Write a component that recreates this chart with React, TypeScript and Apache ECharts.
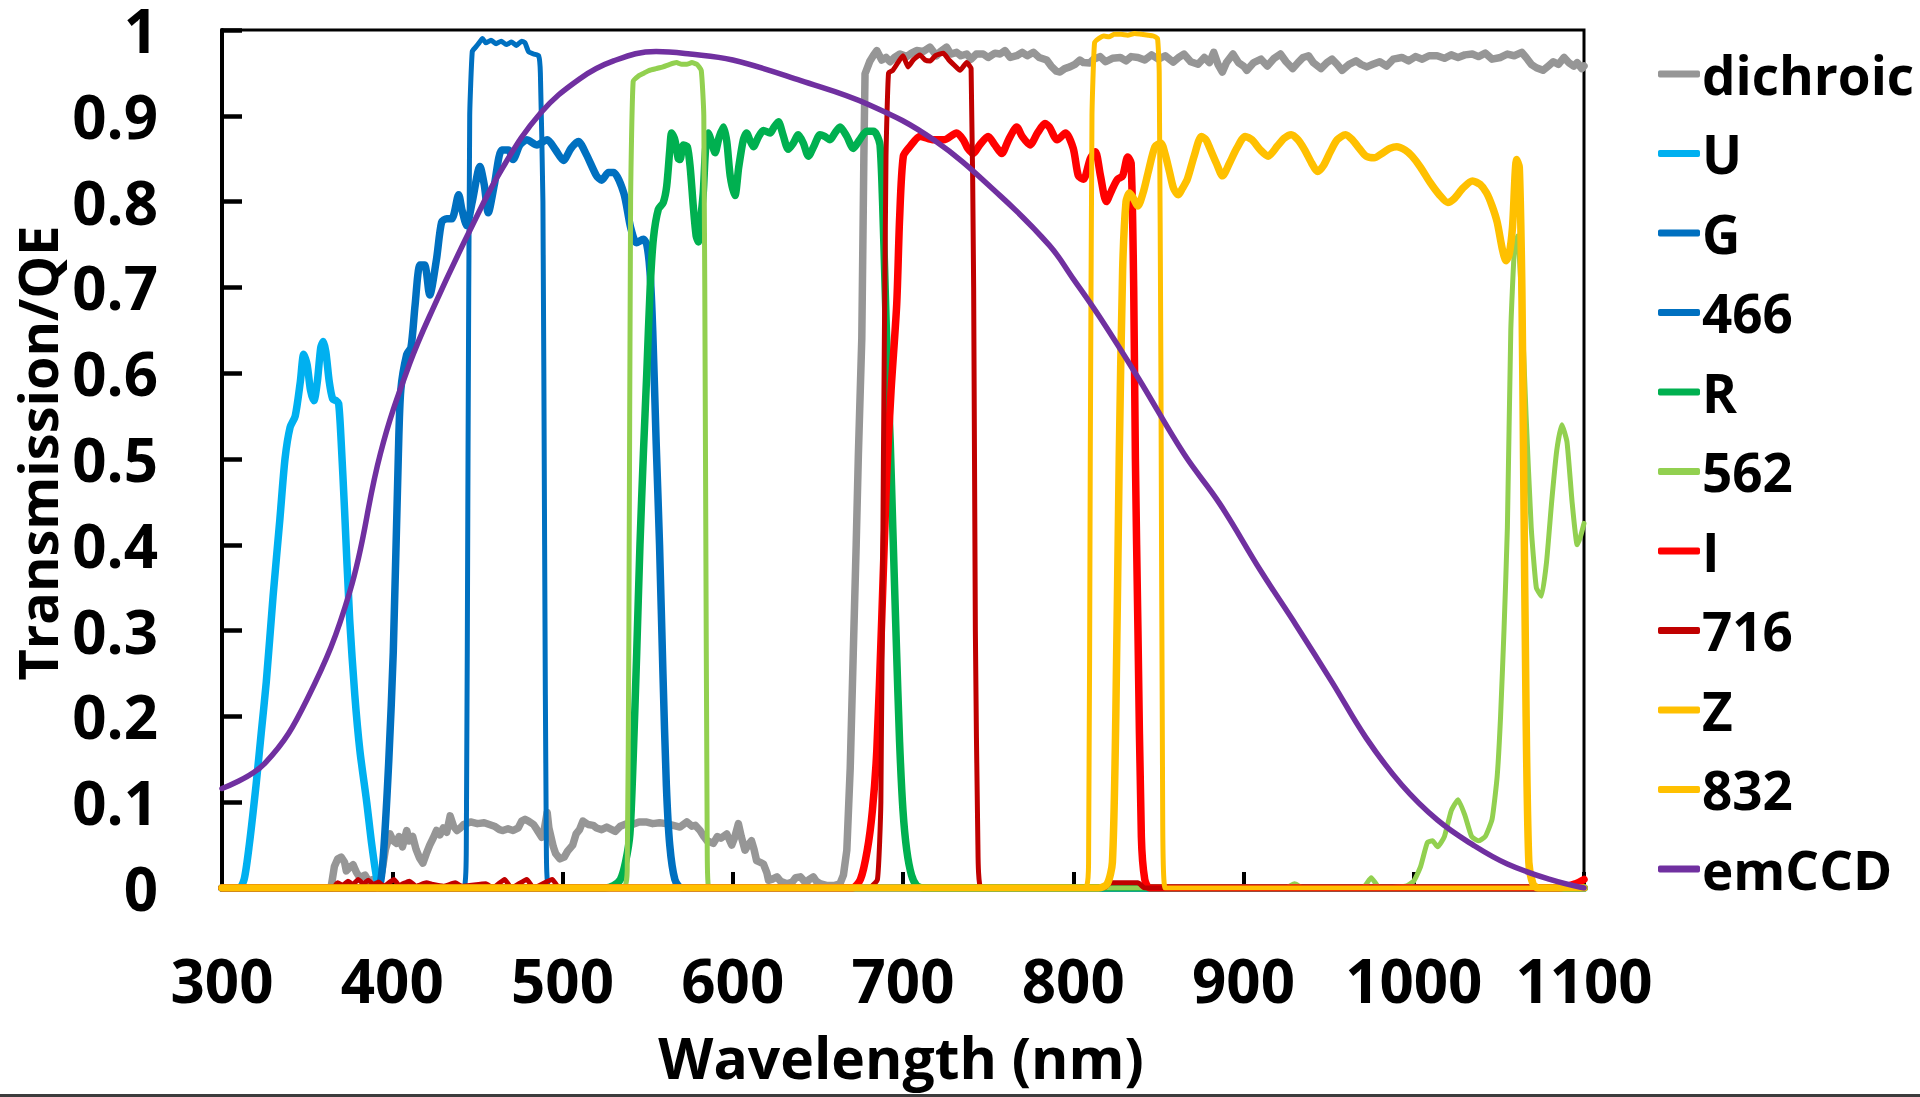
import React, { useEffect, useRef } from 'react';
import * as echarts from 'echarts';

const xTickLabels = ['300', '400', '500', '600', '700', '800', '900', '1000', '1100'];
const yTickLabels = ['0', '0.1', '0.2', '0.3', '0.4', '0.5', '0.6', '0.7', '0.8', '0.9', '1'];
const seriesNames = ['dichroic', 'U', 'G', '466', 'R', '562', 'I', '716', 'Z', '832', 'emCCD'];

const dichroic = [[300,0],[362,0],[364,0],[366,0.025],[368,0.034],[370,0.036],[372,0.03],[373,0.02],[375,0.024],[377,0.027],[379,0.018],[381,0.012],[384,0.015],[386,0.008],[389,0.01],[392,0.005],[394,0.02],[396,0.045],[398.7,0.063],[400.5,0.055],[402.6,0.052],[404,0.06],[406,0.048],[408.5,0.067],[410,0.055],[412,0.06],[414,0.045],[416,0.035],[418,0.029],[420,0.04],[422,0.05],[424,0.058],[426,0.067],[428,0.062],[430,0.07],[432,0.065],[434,0.084],[436,0.072],[438,0.067],[440,0.07],[442,0.074],[446,0.077],[450,0.075],[454,0.076],[457,0.074],[460,0.072],[463,0.068],[465,0.067],[468,0.069],[471,0.067],[474,0.07],[476,0.078],[478,0.08],[480,0.078],[483,0.074],[485,0.068],[487.8,0.059],[489,0.065],[491,0.088],[492,0.07],[494.6,0.048],[496,0.04],[498.5,0.034],[501,0.036],[503,0.043],[506,0.05],[508,0.063],[510,0.068],[512,0.078],[515,0.074],[518,0.073],[520,0.07],[523,0.068],[526,0.071],[528,0.069],[531,0.066],[534,0.072],[537.7,0.075],[541,0.074],[545,0.077],[549,0.077],[553,0.075],[557,0.076],[561,0.075],[565,0.073],[569,0.071],[573,0.077],[576,0.072],[578,0.073],[580.8,0.067],[583,0.06],[585,0.055],[588.6,0.052],[591,0.06],[593,0.058],[596.5,0.063],[599.4,0.05],[601,0.058],[603.3,0.075],[605,0.06],[607.2,0.044],[609,0.05],[611,0.055],[612.5,0.045],[614,0.032],[616,0.03],[618,0.028],[620,0.018],[621,0.009],[623,0.01],[626,0.013],[628,0.008],[631.8,0.005],[635,0.007],[637,0.012],[639.7,0.013],[642,0.008],[643.6,0.007],[645,0.01],[647.3,0.013],[649,0.008],[651.3,0.005],[655,0.003],[660,0.003],[663,0.005],[665,0.015],[667,0.044],[669,0.14],[670.8,0.275],[672.5,0.4],[673.8,0.506],[675.8,0.641],[677,0.85],[677.7,0.949],[680.6,0.964],[682.5,0.97],[684.6,0.976],[687.5,0.965],[690,0.968],[692.4,0.963],[695,0.968],[698.2,0.972],[702.2,0.969],[705,0.973],[708,0.976],[712,0.975],[715.8,0.98],[719.7,0.97],[722,0.975],[725.6,0.98],[728,0.972],[731.5,0.974],[734,0.97],[737.4,0.972],[740,0.966],[743,0.972],[747.1,0.972],[750,0.968],[754,0.973],[757,0.972],[759.9,0.976],[763,0.968],[766.8,0.97],[770,0.974],[773,0.97],[776.6,0.974],[780,0.968],[784.4,0.965],[787,0.958],[790,0.952],[792.2,0.951],[795,0.955],[798,0.957],[801,0.96],[803.9,0.965],[806,0.962],[809.7,0.9615],[812,0.966],[815.7,0.969],[819,0.963],[823,0.967],[827.7,0.968],[831,0.964],[834,0.969],[838,0.968],[842,0.965],[846,0.971],[850,0.966],[854,0.97],[858.7,0.9625],[862,0.968],[865,0.972],[869,0.963],[873.3,0.96],[877,0.968],[880,0.962],[882.5,0.974],[885,0.96],[887.6,0.951],[890,0.962],[893.8,0.972],[897,0.962],[900,0.958],[902,0.953],[906,0.962],[910.3,0.966],[914,0.958],[918,0.967],[921.7,0.972],[925,0.963],[928.9,0.955],[932,0.962],[935,0.968],[938.2,0.97],[941,0.962],[945.5,0.955],[949,0.962],[952,0.966],[955,0.96],[957.9,0.953],[962,0.96],[966.1,0.964],[969,0.96],[972.4,0.957],[976,0.96],[980,0.963],[984,0.958],[988,0.966],[993,0.968],[997,0.964],[1001,0.969],[1005,0.966],[1009,0.97],[1013.7,0.97],[1018,0.967],[1022,0.971],[1026,0.968],[1030,0.971],[1034.4,0.972],[1038,0.969],[1042,0.973],[1046,0.966],[1051,0.968],[1055,0.972],[1059,0.97],[1063.4,0.974],[1066,0.968],[1069,0.96],[1072,0.956],[1075.9,0.953],[1079,0.958],[1082,0.963],[1085,0.96],[1088.3,0.968],[1091,0.962],[1094,0.958],[1096,0.962],[1098.7,0.955],[1100,0.958]];

const uBand = [[300,0],[310,0],[313,0.01],[316,0.05],[320,0.12],[323,0.18],[326,0.24],[330,0.34],[334,0.43],[337,0.5],[340,0.537],[343,0.55],[346,0.59],[348,0.622],[350,0.61],[352,0.58],[354,0.568],[356,0.59],[358,0.63],[359.5,0.637],[361,0.625],[363,0.59],[365,0.57],[367,0.568],[368.5,0.565],[370,0.52],[372,0.44],[375,0.313],[378,0.225],[381,0.16],[385,0.1],[388,0.05],[391,0.01],[393,0],[1100,0]];

const gBand = [[300,0],[390,0],[393,0.006],[395,0.044],[398,0.15],[400.6,0.275],[403.6,0.506],[405,0.58],[408.5,0.622],[411,0.63],[413.4,0.679],[416.3,0.726],[419,0.726],[422,0.691],[426,0.733],[429,0.776],[432,0.78],[435,0.78],[439,0.808],[441,0.79],[443.7,0.772],[447,0.8],[451.5,0.841],[454,0.82],[456.4,0.787],[460,0.82],[464.3,0.86],[468.3,0.86],[471,0.849],[475,0.866],[479,0.872],[485,0.866],[491,0.872],[496,0.86],[500.5,0.848],[505,0.862],[509.3,0.87],[514,0.855],[520,0.83],[523,0.825],[527,0.834],[530,0.834],[536,0.81],[540,0.77],[543.5,0.752],[547.5,0.756],[549.5,0.75],[551.4,0.718],[553,0.65],[555,0.52],[557,0.4],[559,0.25],[561,0.12],[563,0.05],[566,0.01],[570,0],[1100,0]];

const f466 = [[300,0],[442,0],[443.5,0.05],[444.5,0.5],[445.5,0.9],[447,0.975],[449,0.98],[451,0.985],[453,0.99],[455,0.985],[458,0.988],[461,0.984],[464,0.987],[467,0.983],[470,0.986],[473,0.982],[476,0.987],[478,0.985],[480,0.975],[483,0.972],[486,0.97],[487,0.95],[488.5,0.8],[489.5,0.4],[490.5,0.05],[492,0],[1100,0]];

const rBand = [[300,0],[525,0],[530,0.003],[534,0.01],[537,0.03],[539.6,0.063],[541.5,0.15],[543.6,0.275],[545.5,0.4],[547.5,0.506],[549.5,0.6],[551.5,0.7],[553.4,0.757],[556.3,0.791],[559.2,0.799],[561.2,0.818],[563,0.86],[564.1,0.88],[566,0.872],[568,0.85],[569,0.849],[571,0.866],[573.3,0.864],[575,0.84],[576.8,0.795],[578.5,0.76],[579.8,0.753],[581.2,0.78],[582.7,0.811],[584,0.86],[585.6,0.88],[587.5,0.87],[589.6,0.857],[592,0.875],[594.5,0.887],[596.5,0.87],[598.5,0.83],[601.3,0.807],[603.5,0.84],[606.2,0.872],[608.1,0.88],[610,0.872],[612.1,0.864],[615,0.875],[618,0.883],[621.9,0.88],[624,0.886],[626.8,0.893],[629.5,0.878],[632.6,0.861],[635.5,0.868],[638.5,0.878],[641.5,0.868],[644.4,0.853],[648,0.866],[651.2,0.878],[654,0.876],[657.1,0.872],[660,0.88],[663,0.887],[667,0.876],[670.8,0.862],[674.5,0.872],[678.7,0.882],[682.6,0.882],[684.5,0.878],[686.5,0.866],[688,0.8],[689.5,0.7],[691,0.6],[692.5,0.52],[694,0.42],[696,0.29],[698,0.17],[700,0.09],[702.2,0.044],[705,0.015],[708,0.003],[712,0],[1100,0]];

const f562 = [[300,0],[536,0],[538,0.02],[539,0.3],[540,0.8],[541.5,0.94],[545,0.947],[548,0.95],[551,0.953],[555,0.955],[559,0.957],[563,0.96],[567,0.962],[570,0.96],[573,0.96],[576,0.962],[579,0.96],[581.5,0.953],[583,0.9],[584,0.5],[585,0.05],[586,0],[925,0],[930,0.005],[935,0],[970,0],[975,0.012],[980,0],[995,0.002],[1000,0.008],[1004,0.025],[1008,0.053],[1011,0.055],[1014,0.048],[1018,0.06],[1022,0.09],[1026,0.103],[1030,0.085],[1034,0.06],[1038,0.055],[1042,0.06],[1046,0.08],[1049,0.13],[1051,0.2],[1053,0.3],[1055,0.42],[1057,0.65],[1059,0.74],[1061,0.76],[1063,0.7],[1066,0.55],[1069,0.42],[1072,0.35],[1075,0.34],[1078,0.38],[1081,0.45],[1084,0.51],[1087,0.54],[1090,0.52],[1093,0.45],[1096,0.4],[1098,0.41],[1100,0.425]];

const iBand = [[300,0],[670,0],[675,0.01],[679,0.044],[682,0.09],[684.6,0.16],[687.5,0.313],[690.4,0.48],[693,0.58],[696.3,0.68],[698,0.78],[700.2,0.853],[704,0.864],[710,0.876],[718,0.872],[724,0.872],[731.5,0.88],[735.4,0.872],[738,0.862],[741.3,0.856],[745,0.866],[750,0.876],[754,0.866],[758,0.856],[762,0.872],[766.8,0.887],[770,0.876],[774.6,0.866],[779,0.88],[783.4,0.891],[786,0.887],[790.5,0.872],[795.5,0.88],[800,0.862],[803,0.83],[806,0.826],[810,0.85],[813,0.858],[816,0.83],[819.4,0.8],[823,0.815],[826,0.826],[829,0.83],[832,0.852],[834,0.845],[835.5,0.7],[836.5,0.5],[838,0.3],[840,0.06],[842,0.01],[845,0],[1085,0],[1095,0.005],[1100,0.01]];

const f716 = [[300,0],[365,0],[368,0.006],[371,0.003],[374,0.008],[377,0.004],[380,0.01],[383,0.005],[386,0.009],[389,0.004],[392,0.007],[395,0.002],[398,0.006],[401,0.01],[404,0.003],[410,0.008],[414,0.002],[420,0.006],[424,0.004],[430,0.002],[437,0.006],[441,0.002],[455,0.005],[459,0],[466,0.01],[470,0],[479,0.01],[483,0],[494,0.01],[498,0],[680,0],[685,0.01],[687,0.1],[688.5,0.5],[690,0.85],[691.5,0.95],[694,0.953],[697,0.962],[700,0.97],[703,0.957],[706,0.965],[710,0.971],[713,0.965],[716,0.964],[719,0.97],[723.7,0.973],[727,0.965],[729.6,0.96],[733.5,0.953],[737.4,0.962],[740,0.955],[741.5,0.7],[742.5,0.3],[744,0.05],[746,0],[818,0],[822,0.006],[838,0.006],[842,0],[1100,0]];

const zBand = [[300,0],[815,0],[820,0.005],[823,0.03],[825,0.2],[827,0.5],[829,0.72],[831,0.8],[833,0.81],[835,0.805],[838,0.795],[841,0.81],[844,0.834],[848,0.864],[851.5,0.868],[854,0.855],[856.6,0.834],[859,0.815],[861.8,0.808],[864,0.815],[867,0.826],[871,0.853],[875.3,0.876],[878,0.872],[880.5,0.861],[884,0.845],[887.7,0.83],[891.8,0.845],[896,0.862],[901,0.876],[905,0.872],[910,0.86],[914.5,0.853],[920,0.865],[924,0.874],[928,0.878],[932,0.872],[936,0.86],[940,0.845],[943.5,0.835],[947,0.842],[951,0.858],[955,0.872],[960,0.878],[964,0.872],[968,0.862],[972,0.853],[976.7,0.851],[982,0.857],[986,0.862],[990,0.864],[995,0.86],[999,0.853],[1004,0.84],[1009.7,0.822],[1015,0.808],[1020,0.799],[1024,0.804],[1029,0.816],[1034.5,0.824],[1039,0.82],[1042.8,0.81],[1046,0.795],[1049,0.776],[1052,0.745],[1054.2,0.731],[1056,0.738],[1058,0.77],[1060.4,0.849],[1062,0.84],[1063.5,0.7],[1064.5,0.5],[1066,0.2],[1067.6,0.03],[1070,0.005],[1073,0],[1100,0]];

const f832 = [[300,0],[807,0],[809,0.03],[810,0.5],[811,0.9],[812.5,0.985],[815,0.99],[818,0.993],[821,0.992],[824,0.995],[828,0.995],[832,0.994],[836,0.996],[840,0.995],[844,0.994],[847,0.993],[849.5,0.99],[850.5,0.95],[851.5,0.6],[852.5,0.1],[854,0],[1100,0]];

const emCCD = [[300,0.116],[325,0.145],[350,0.22],[375,0.345],[393,0.506],[410,0.61],[425,0.68],[446,0.768],[465,0.84],[487,0.903],[510,0.943],[530,0.964],[555,0.975],[575,0.972],[600,0.965],[640,0.941],[680,0.913],[718,0.872],[757,0.807],[786,0.749],[800,0.71],[816,0.664],[838,0.595],[865,0.506],[886,0.448],[910,0.37],[931,0.306],[952,0.24],[972,0.175],[993,0.12],[1014,0.079],[1035,0.05],[1055,0.028],[1080,0.01],[1100,0]];

const seriesData = [dichroic, uBand, gBand, f466, rBand, f562, iBand, f716, zBand, f832, emCCD];
const seriesColors = ['#969696', '#00B0F0', '#0070C0', '#0070C0', '#00B050', '#92D050', '#FF0000', '#C00000', '#FFC000', '#FFC000', '#7030A0'];
const seriesWidths = [7.5, 7.5, 7.5, 5, 7.5, 5, 7.5, 5, 7.5, 5, 5.5];
const seriesSmooth = [0, 0.25, 0.25, 0.15, 0.25, 0.15, 0.25, 0.15, 0.25, 0.15, 0.4];

const FONT = '"Open Sans", "Noto Sans", sans-serif';

export default function App() {
  const ref = useRef<HTMLDivElement>(null);
  useEffect(() => {
    const chart = echarts.init(ref.current as HTMLDivElement, null, { renderer: 'svg' });
    const series = seriesNames.map((name, i) => ({
      type: 'line',
      name,
      data: seriesData[i],
      showSymbol: false,
      symbol: 'none',
      smooth: seriesSmooth[i],
      silent: true,
      itemStyle: { color: seriesColors[i] },
      lineStyle: { color: seriesColors[i], width: seriesWidths[i], cap: 'round', join: 'round' },
    }));
    chart.setOption({
      animation: false,
      backgroundColor: '#ffffff',
      grid: {
        left: 222, top: 23, right: 336, bottom: 209,
        show: true, borderColor: '#000', borderWidth: 3, backgroundColor: 'transparent',
      },
      xAxis: {
        type: 'value', min: 300, max: 1100, interval: 100,
        axisLine: { show: true, onZero: false, lineStyle: { color: '#000', width: 4 } },
        axisTick: { show: true, inside: true, length: 16, lineStyle: { color: '#000', width: 4 } },
        splitLine: { show: false },
        axisLabel: {
          margin: 62, color: '#000', fontSize: 60, fontWeight: 'bold', fontFamily: FONT, lineHeight: 60,
          formatter: (v: number) => xTickLabels[Math.round((v - 300) / 100)] ?? String(v),
        },
      },
      yAxis: {
        type: 'value', min: 0, max: 1, interval: 0.1,
        axisLine: { show: true, lineStyle: { color: '#000', width: 4 } },
        axisTick: { show: true, inside: true, length: 20, lineStyle: { color: '#000', width: 4.5 } },
        splitLine: { show: false },
        axisLabel: {
          margin: 64, color: '#000', fontSize: 60, fontWeight: 'bold', fontFamily: FONT, lineHeight: 44,
          formatter: (v: number) => yTickLabels[Math.round(v * 10)] ?? String(v),
        },
      },
      legend: {
        orient: 'vertical', left: 1653, top: 41, itemGap: 23.5,
        itemWidth: 42, itemHeight: 7, icon: 'roundRect', selectedMode: false,
        data: seriesNames,
        textStyle: { color: '#000', fontSize: 53, fontWeight: 'bold', fontFamily: FONT, lineHeight: 56, padding: [0, 0, 0, -3] },
      },
      graphic: [
        {
          type: 'text', x: 901, y: 1057,
          style: { text: 'Wavelength (nm)', fill: '#000', font: `bold 57px ${FONT}`, lineHeight: 58, textAlign: 'center', textVerticalAlign: 'middle' },
        },
        {
          type: 'text', x: 37, y: 453, rotation: Math.PI / 2,
          style: { text: 'Transmission/QE', fill: '#000', font: `bold 54px ${FONT}`, lineHeight: 54, textAlign: 'center', textVerticalAlign: 'middle' },
        },
        {
          type: 'rect', shape: { x: 0, y: 1094, width: 1920, height: 3 }, style: { fill: '#3c3c3c' },
        },
      ],
      series,
    });
    return () => chart.dispose();
  }, []);
  return <div ref={ref} style={{ position: 'fixed', left: 0, top: 0, width: 1920, height: 1097, background: '#fff' }} />;
}
